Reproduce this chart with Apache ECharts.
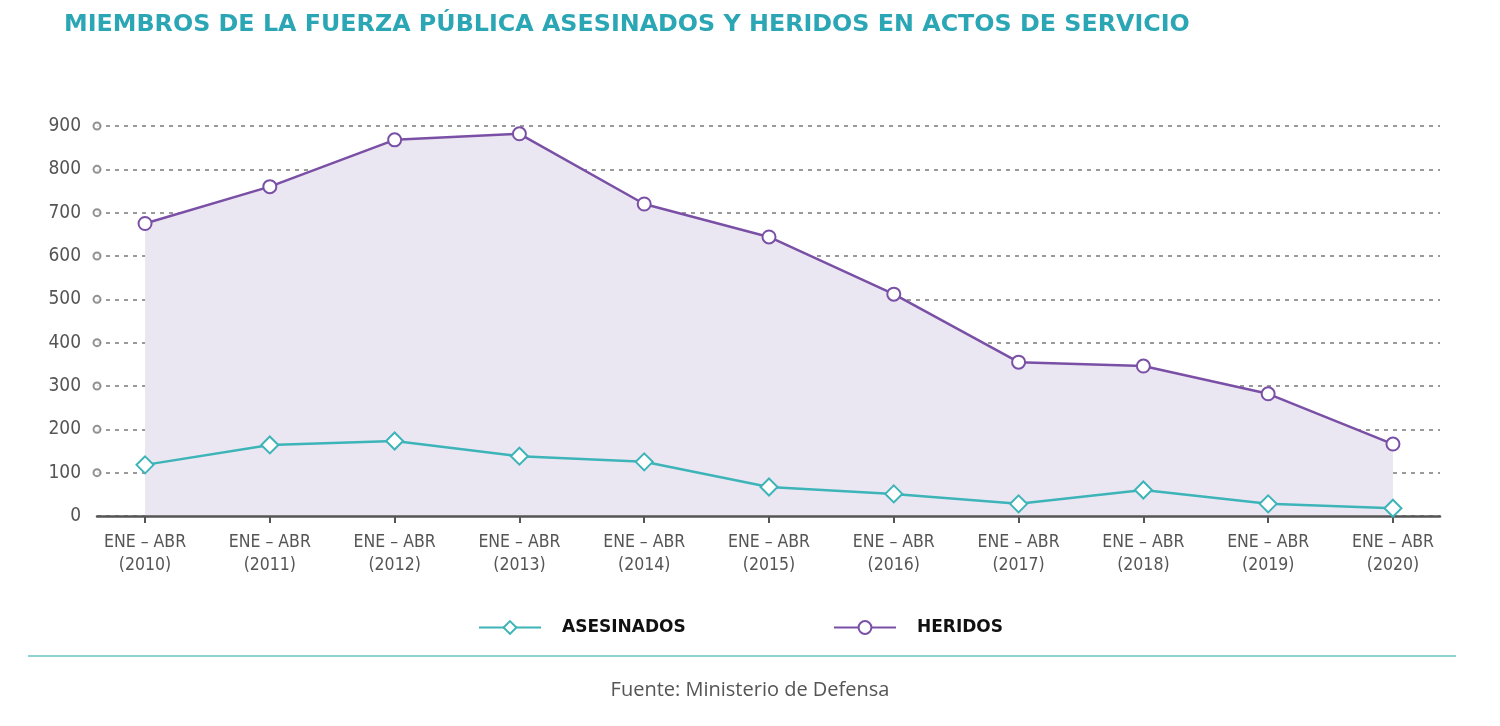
<!DOCTYPE html>
<html><head><meta charset="utf-8">
<script src="https://cdn.jsdelivr.net/npm/echarts@6/dist/echarts.min.js"></script>
<style>html,body{margin:0;padding:0;background:#fff}#c{width:1500px;height:726px}</style>
</head><body><div id="c"></div>
<script>
const years = ['2010','2011','2012','2013','2014','2015','2016','2017','2018','2019','2020'];
const categories = years.map(y => 'ENE – ABR\n(' + y + ')');
const asesinados = [118, 164, 173, 138, 125, 67, 51, 28, 60, 28, 18];
const heridos = [675, 760, 868, 882, 720, 644, 512, 355, 346, 282, 166];
const yTicks = [100, 200, 300, 400, 500, 600, 700, 800, 900];

const XMIN = -0.385, XMAX = 10.377;
const idx = categories.map((_, i) => i);
const COND = '"DejaVu Sans Condensed", "Liberation Sans Narrow", Roboto, sans-serif';

const legendText = {fontFamily: 'DejaVu Sans', fontWeight: 'bold', fontSize: 17, color: '#111', padding: [0,0,0,16]};
const chart = echarts.init(document.getElementById('c'), null, {renderer: 'canvas'});
chart.setOption({
  animation: false,
  title: {
    text: 'MIEMBROS DE LA FUERZA PÚBLICA ASESINADOS Y HERIDOS EN ACTOS DE SERVICIO',
    left: 59, top: 8,
    textStyle: {fontFamily: 'DejaVu Sans', fontWeight: 'bold', fontSize: 23.8, color: '#2ba6b5'}
  },
  legend: [
    {left: 473, top: 614, itemWidth: 62, itemHeight: 16, data: ['ASESINADOS'], textStyle: legendText},
    {left: 828, top: 614, itemWidth: 62, itemHeight: 16, data: ['HERIDOS'], textStyle: legendText}
  ],
  graphic: [
    {type: 'line', shape: {x1: 28, y1: 656, x2: 1456, y2: 656}, style: {stroke: '#8fd0d3', lineWidth: 2}},
    {type: 'text', left: 'center', top: 680, style: {text: 'Fuente: Ministerio de Defensa', font: '20px "Open Sans"', fill: '#555'}}
  ],
  grid: {left: 97, right: 60, top: 126, bottom: 210, containLabel: false},
  xAxis: {
    type: 'value', min: XMIN, max: XMAX, z: 3,
    axisLine: {show: true, onZero: false, lineStyle: {color: '#555', width: 2.5}},
    axisTick: {show: true, customValues: idx, length: 7, lineStyle: {color: '#555', width: 2}},
    axisLabel: {show: true, customValues: idx, margin: 15, formatter: v => categories[Math.round(v)],
      fontFamily: COND, fontSize: 17.5, color: '#555', lineHeight: 23},
    splitLine: {show: false}
  },
  yAxis: {
    type: 'value', min: 0, max: 900, interval: 100,
    axisLine: {show: false}, axisTick: {show: false},
    axisLabel: {margin: 16, fontFamily: COND, fontSize: 19, color: '#555'},
    splitLine: {show: true, lineStyle: {color: '#9a9a9a', type: [4, 5], width: 2}}
  },
  series: [
    {
      name: 'HERIDOS', type: 'line', z: 2,
      data: heridos.map((v, i) => [i, v]),
      symbol: 'emptyCircle', symbolSize: 13,
      lineStyle: {color: '#7a50a6', width: 2.5},
      itemStyle: {color: '#7a50a6', borderWidth: 2.5},
      areaStyle: {color: '#ebe7f2', opacity: 1}
    },
    {
      name: 'ASESINADOS', type: 'line', z: 4,
      data: asesinados.map((v, i) => [i, v]),
      symbol: 'emptyDiamond', symbolSize: 17,
      lineStyle: {color: '#3cb4b8', width: 2.5},
      itemStyle: {color: '#3cb4b8', borderWidth: 2.5}
    },
    {
      name: 'ticks', type: 'scatter', z: 5, clip: false, silent: true,
      data: yTicks.map(v => [XMIN, v]),
      symbol: 'emptyCircle', symbolSize: 7,
      itemStyle: {color: '#777', borderWidth: 1.8}
    }
  ]
});
</script></body></html>
